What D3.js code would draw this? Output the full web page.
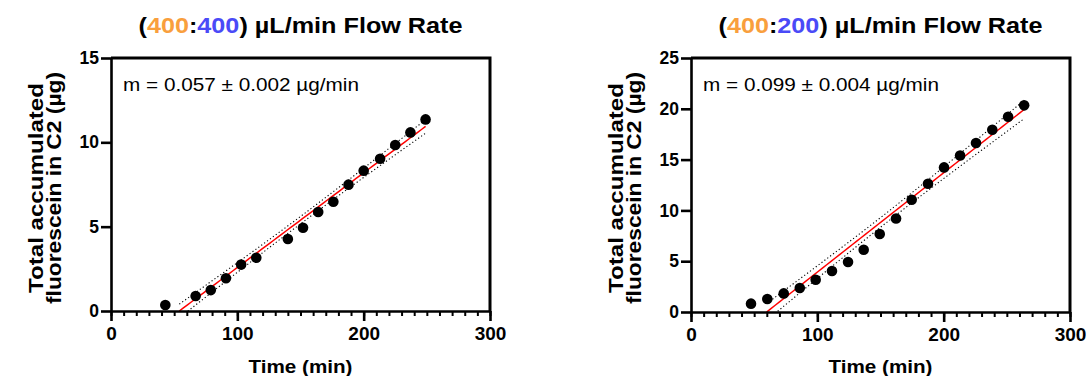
<!DOCTYPE html>
<html>
<head>
<meta charset="utf-8">
<script src="https://cdn.jsdelivr.net/npm/d3@7"></script>
<style>
  body { margin: 0; background: #fff; }
  text { font-family: "Liberation Sans", Arial, sans-serif; }
</style>
</head>
<body>
<div id="chart"></div>
<script>
"use strict";

// data
var leftTime   = [43, 67, 79, 91, 103, 115, 140, 152, 164, 176, 188, 200, 213, 225, 237, 249];
var leftAmount = [0.36, 0.89, 1.24, 1.94, 2.75, 3.16, 4.27, 4.94, 5.87, 6.48, 7.49, 8.32, 9.03, 9.84, 10.59, 11.36];

var rightTime   = [47.5, 60.4, 73.4, 86.1, 98.7, 111.6, 124.3, 136.7, 149.4, 162.3, 174.7, 187.6, 200.3, 213, 225.6, 238.5, 251, 263.7];
var rightAmount = [0.82, 1.28, 1.83, 2.36, 3.18, 4.03, 4.92, 6.13, 7.67, 9.21, 11.05, 12.63, 14.23, 15.41, 16.63, 17.94, 19.22, 20.34];

var xTicks = [0, 100, 200, 300];
var leftYTicks = [0, 5, 10, 15];
var rightYTicks = [0, 5, 10, 15, 20, 25];

var leftTitle = ["400", "400"];
var rightTitle = ["400", "200"];
var leftSlope = "m = 0.057 \u00b1 0.002 \u00b5g/min";
var rightSlope = "m = 0.099 \u00b1 0.004 \u00b5g/min";

// two-sided 95% t values for n-2 degrees of freedom
var leftT = 2.145, rightT = 2.120;

var svg = d3.select("#chart").append("svg")
    .attr("width", 1089)
    .attr("height", 376);

// least squares fit with confidence band of the line
function fit(xs, ys) {
  var n = xs.length,
      mx = d3.mean(xs), my = d3.mean(ys),
      sxx = d3.sum(xs, function(x) { return (x - mx) * (x - mx); }),
      sxy = d3.sum(xs, function(x, i) { return (x - mx) * (ys[i] - my); }),
      m = sxy / sxx,
      b = my - m * mx,
      sse = d3.sum(xs, function(x, i) { var r = ys[i] - (m * x + b); return r * r; }),
      s = Math.sqrt(sse / (n - 2));
  return {m: m, b: b, s: s, n: n, mx: mx, sxx: sxx};
}

function drawPanel(p) {
  var g = svg.append("g");

  var x = d3.scaleLinear().domain([0, 300]).range([p.left, p.right]);
  var y = d3.scaleLinear().domain([0, p.yMax]).range([p.bottom, p.top]);

  // clip for the fit lines
  g.append("clipPath").attr("id", p.id)
    .append("rect")
      .attr("x", p.left).attr("y", p.top)
      .attr("width", p.right - p.left).attr("height", p.bottom - p.top);

  // fit + confidence band
  var f = fit(p.time, p.amount);
  var x0 = Math.max(d3.min(p.time), -f.b / f.m),
      x1 = d3.max(p.time);
  var xs = d3.range(0, 61).map(function(i) { return x0 + (x1 - x0) * i / 60; });
  function half(xv) {
    return p.t * f.s * Math.sqrt(1 / f.n + (xv - f.mx) * (xv - f.mx) / f.sxx);
  }
  var line = d3.line().x(function(d) { return x(d[0]); }).y(function(d) { return y(d[1]); });

  var fits = g.append("g").attr("clip-path", "url(#" + p.id + ")");
  [1, -1].forEach(function(sign) {
    fits.append("path")
      .datum(xs.map(function(xv) { return [xv, f.m * xv + f.b + sign * half(xv)]; }))
      .attr("fill", "none")
      .attr("stroke", "#000")
      .attr("stroke-width", 1.1)
      .attr("stroke-dasharray", "1.2,2.4")
      .attr("d", line);
  });
  fits.append("path")
    .datum(xs.map(function(xv) { return [xv, f.m * xv + f.b]; }))
    .attr("fill", "none")
    .attr("stroke", "#ff0000")
    .attr("stroke-width", 1.5)
    .attr("d", line);

  // points
  g.selectAll("circle.pt")
    .data(p.time)
    .join("circle")
      .attr("class", "pt")
      .attr("cx", function(d) { return x(d); })
      .attr("cy", function(d, i) { return y(p.amount[i]); })
      .attr("r", 5.3)
      .attr("fill", "#000");

  // frame top + right
  g.append("path")
    .attr("d", "M" + p.left + "," + p.top + "H" + p.right + "V" + p.bottom)
    .attr("fill", "none")
    .attr("stroke", "#000")
    .attr("stroke-width", 3);

  // x axis, minor ticks every 10
  g.append("g")
    .attr("transform", "translate(0," + p.bottom + ")")
    .call(d3.axisBottom(x).tickValues(d3.range(0, 301, 10)).tickSize(5).tickFormat(""))
    .call(function(a) {
      a.select(".domain").remove();
      a.selectAll("line").attr("stroke-width", 2);
    });

  g.append("g")
    .attr("transform", "translate(0," + p.bottom + ")")
    .call(d3.axisBottom(x).tickValues(xTicks).tickSize(10).tickSizeOuter(0).tickPadding(6))
    .call(function(a) {
      a.select(".domain").attr("stroke-width", 2.6);
      a.selectAll("line").attr("stroke-width", 2.6);
      a.selectAll("text")
        .attr("font-size", 19)
        .attr("font-weight", "bold")
        .attr("fill", "#000")
        .attr("font-family", "Liberation Sans, Arial, sans-serif");
    });

  // y axis
  g.append("g")
    .attr("transform", "translate(" + p.left + ",0)")
    .call(d3.axisLeft(y).tickValues(p.yTicks).tickSize(10).tickSizeOuter(0).tickPadding(2))
    .call(function(a) {
      a.select(".domain").attr("stroke-width", 2.6);
      a.selectAll("line").attr("stroke-width", 2.6);
      a.selectAll("text")
        .attr("font-size", 17.5)
        .attr("font-weight", "bold")
        .attr("fill", "#000")
        .attr("font-family", "Liberation Sans, Arial, sans-serif");
    });

  var cx = (p.left + p.right) / 2;

  // title
  var title = g.append("text")
    .attr("x", cx)
    .attr("y", 33)
    .attr("text-anchor", "middle")
    .attr("font-family", "Inter, sans-serif")
    .attr("font-weight", 800)
    .attr("font-size", 22)
    .attr("textLength", 324)
    .attr("lengthAdjust", "spacingAndGlyphs");
  title.append("tspan").text("(");
  title.append("tspan").attr("fill", "#f99f3d").text(p.title[0]);
  title.append("tspan").text(":");
  title.append("tspan").attr("fill", "#4a4af7").text(p.title[1]);
  title.append("tspan").text(") \u00b5L/min Flow Rate");

  // slope note
  g.append("text")
    .attr("x", p.left + 12)
    .attr("y", 91)
    .attr("font-size", 17.5)
    .attr("textLength", 236)
    .attr("lengthAdjust", "spacingAndGlyphs")
    .text(p.slope);

  // axis titles
  g.append("text")
    .attr("x", cx)
    .attr("y", 373)
    .attr("text-anchor", "middle")
    .attr("font-size", 19)
    .attr("font-weight", "bold")
    .attr("textLength", 104)
    .attr("lengthAdjust", "spacingAndGlyphs")
    .text("Time (min)");

  var ylab = g.append("text")
    .attr("transform", "translate(" + (p.left - 68) + "," + 188 + ") rotate(-90)")
    .attr("text-anchor", "middle")
    .attr("font-size", 21)
    .attr("font-weight", "bold");
  ylab.append("tspan").attr("x", 0).attr("y", 0)
    .attr("textLength", 210).attr("lengthAdjust", "spacingAndGlyphs")
    .text("Total accumulated");
  ylab.append("tspan").attr("x", 0).attr("y", 18)
    .attr("textLength", 232).attr("lengthAdjust", "spacingAndGlyphs")
    .text("fluorescein in C2 (\u00b5g)");
}

drawPanel({id: "clipL", left: 111, right: 490, top: 58, bottom: 311, yMax: 15,
  yTicks: leftYTicks, time: leftTime, amount: leftAmount, t: leftT,
  title: leftTitle, slope: leftSlope});

drawPanel({id: "clipR", left: 691, right: 1070, top: 58, bottom: 312, yMax: 25,
  yTicks: rightYTicks, time: rightTime, amount: rightAmount, t: rightT,
  title: rightTitle, slope: rightSlope});
</script>
</body>
</html>
